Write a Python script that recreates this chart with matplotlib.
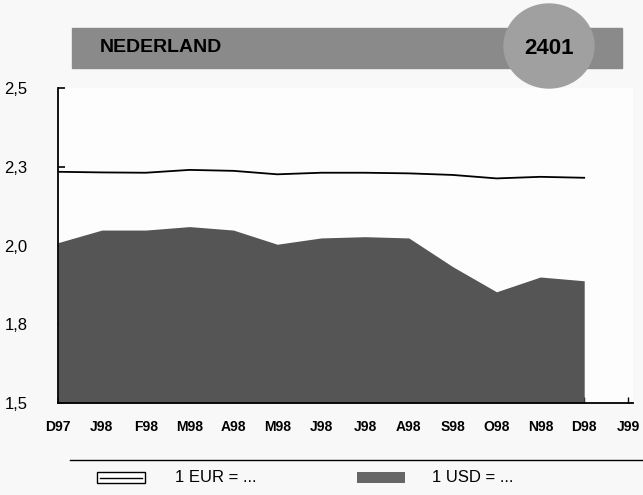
import matplotlib.pyplot as plt
from matplotlib.patches import Rectangle, Ellipse
from matplotlib.lines import Line2D
import numpy as np

# monthly rates, NLG per currency unit
months = ["D97", "J98", "F98", "M98", "A98", "M98", "J98", "J98",
          "A98", "S98", "O98", "N98", "D98", "J99"]
eur = [2.234, 2.232, 2.231, 2.240, 2.237, 2.226, 2.231, 2.231,
       2.229, 2.224, 2.213, 2.218, 2.215]
usd = [2.009, 2.049, 2.049, 2.060, 2.049, 2.004, 2.024, 2.028,
       2.024, 1.933, 1.853, 1.900, 1.888]
yticks = [1.5, 1.75, 2.0, 2.25, 2.5]
ylabels = ["1,5", "1,8", "2,0", "2,3", "2,5"]

plt.rcParams['font.family'] = ['Liberation Sans', 'DejaVu Sans']

W, H = 643, 495
fig = plt.figure(figsize=(W / 100, H / 100), dpi=100)
fig.patch.set_facecolor('#f8f8f8')

# axes placed in pixel terms
left, right, top, bottom = 58, 633, 88, 403
ax = fig.add_axes([left / W, 1 - bottom / H, (right - left) / W, (bottom - top) / H])
ax.set_facecolor('#fdfdfd')

x = np.arange(len(eur))
ax.fill_between(x, 1.5, usd, color='#555555', lw=0, zorder=2)
ax.plot(x, eur, color='black', lw=1.3, zorder=3)

ax.set_ylim(1.5, 2.5)
ax.set_xlim(0, (right - left) / 43.85)
ax.set_yticks(yticks)
ax.set_yticklabels(ylabels, fontsize=12)
ax.set_xticks(np.arange(len(months)))
ax.set_xticklabels(months, fontsize=10, fontweight='bold')
ax.tick_params(axis='y', direction='in', length=5, width=1.2, pad=22)
ax.tick_params(axis='x', direction='in', length=4, width=1, pad=12)

for s in ['top', 'right']:
    ax.spines[s].set_visible(False)
ax.spines['left'].set_linewidth(1.3)
ax.spines['bottom'].set_linewidth(1.3)

# title band
fig.patches.append(Rectangle((72 / W, 1 - 68 / H), (622 - 72) / W, 40 / H,
                             transform=fig.transFigure, color='#8a8a8a', zorder=1))
fig.patches.append(Ellipse((549 / W, 1 - 46 / H), 90 / W, 84 / H,
                           transform=fig.transFigure, color='#a0a0a0', zorder=2))
fig.text(100 / W, 1 - 48 / H, "NEDERLAND", fontsize=14, fontweight='bold',
         va='center', ha='left', zorder=3)
fig.text(549 / W, 1 - 48 / H, "2401", fontsize=16, fontweight='bold',
         va='center', ha='center', zorder=3)

# legend
fig.lines.append(Line2D([70 / W, 1.0], [1 - 460 / H, 1 - 460 / H],
                        transform=fig.transFigure, color='black', lw=1))
fig.patches.append(Rectangle((97 / W, 1 - 483 / H), 48 / W, 11 / H,
                             transform=fig.transFigure, fc='white', ec='black', lw=1))
fig.lines.append(Line2D([100 / W, 142 / W], [1 - 477.5 / H, 1 - 477.5 / H],
                        transform=fig.transFigure, color='black', lw=1))
fig.text(175 / W, 1 - 478 / H, "1 EUR = ...", fontsize=12, va='center')
fig.patches.append(Rectangle((357 / W, 1 - 483 / H), 48 / W, 11 / H,
                             transform=fig.transFigure, fc='#666666', ec='none'))
fig.text(432 / W, 1 - 478 / H, "1 USD = ...", fontsize=12, va='center')

fig.savefig("out.png", dpi=100, facecolor=fig.get_facecolor())
